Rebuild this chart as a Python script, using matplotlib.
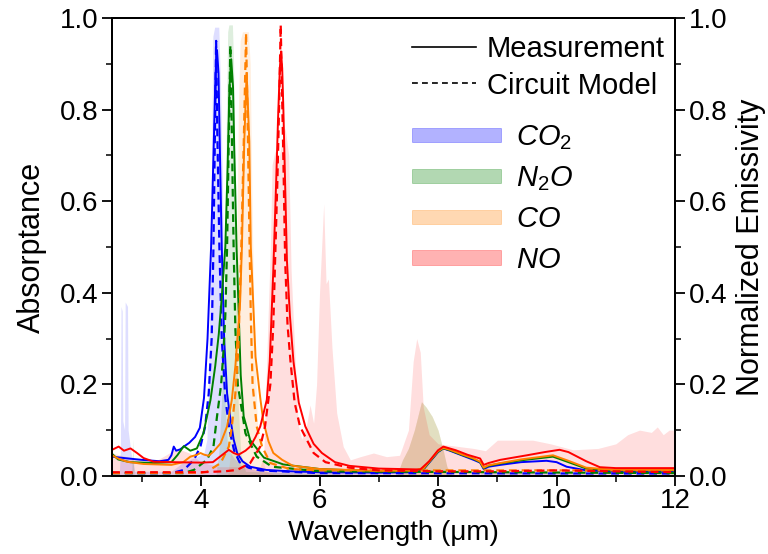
import matplotlib
matplotlib.use("Agg")
import matplotlib.pyplot as plt
from matplotlib.patches import Patch
from matplotlib.lines import Line2D
from matplotlib.ticker import MultipleLocator, FormatStrFormatter

plt.rcParams['font.family'] = ['Liberation Sans', 'DejaVu Sans']
plt.rcParams['mathtext.fontset'] = 'custom'
plt.rcParams['mathtext.it'] = 'Liberation Sans:italic'
plt.rcParams['mathtext.rm'] = 'Liberation Sans'

# ---------------- gas spectra (normalized emissivity, right axis) ----------------
co2_gas_x = [2.5, 2.62, 2.64, 2.65, 2.67, 2.68, 2.71, 2.72, 2.76, 2.77, 2.82, 2.88, 3.5, 3.7, 3.9, 4.05,
             4.1, 4.13, 4.16, 4.18, 4.2, 4.23, 4.3, 4.33, 4.36, 4.38, 4.41, 4.45, 4.55, 4.7, 5.0, 8.7, 8.8,
             8.9, 12.0]
co2_gas_y = [0.0, 0.0, 0.06, 0.37, 0.36, 0.12, 0.10, 0.38, 0.37, 0.10, 0.05, 0.01, 0.01, 0.03, 0.04, 0.05,
             0.08, 0.25, 0.45, 0.70, 0.96, 0.98, 0.98, 0.85, 0.65, 0.40, 0.15, 0.06, 0.04, 0.02, 0.01, 0.0, 0.03,
             0.01, 0.0]

n2o_gas_x = [2.5, 2.83, 2.85, 2.87, 4.25, 4.3, 4.36, 4.4, 4.43, 4.45, 4.47, 4.53, 4.55, 4.58, 4.6, 4.63,
             4.67, 4.75, 7.3, 7.4, 7.5, 7.6, 7.72, 7.8, 7.9, 8.0, 8.08, 8.15, 8.25, 12.0]
n2o_gas_y = [0.0, 0.0, 0.08, 0.0, 0.0, 0.05, 0.20, 0.45, 0.80, 0.97, 0.985, 0.985, 0.90, 0.55, 0.30, 0.15,
             0.05, 0.01, 0.0, 0.035, 0.06, 0.10, 0.162, 0.15, 0.13, 0.10, 0.06, 0.02, 0.0, 0.0]

co_gas_x = [2.5, 4.45, 4.5, 4.55, 4.6, 4.63, 4.66, 4.7, 4.8, 4.83, 4.86, 4.9, 4.95, 5.0, 5.1, 5.3, 7.3,
            7.4, 7.5, 7.6, 7.72, 7.8, 7.9, 8.0, 8.08, 8.15, 8.25, 12.0]
co_gas_y = [0.0, 0.0, 0.05, 0.15, 0.45, 0.80, 0.95, 0.97, 0.97, 0.90, 0.60, 0.30, 0.12, 0.05, 0.01, 0.0,
            0.0, 0.035, 0.06, 0.10, 0.162, 0.15, 0.13, 0.10, 0.06, 0.02, 0.0, 0.0]

no_gas_x = [2.5, 2.8, 3.2, 3.6, 3.8, 4.0, 4.3, 4.6, 5.0, 5.06, 5.12, 5.17, 5.2, 5.25, 5.3, 5.35, 5.42,
            5.48, 5.52, 5.59, 5.64, 5.7, 5.78, 5.84, 5.9, 5.95, 6.0, 6.07, 6.11, 6.15, 6.21, 6.29, 6.4,
            6.52, 6.69, 6.91, 7.13, 7.35, 7.5, 7.58, 7.64, 7.7, 7.75, 7.85, 8.0, 8.3, 8.6, 8.8, 9.0, 9.6,
            9.9, 10.28, 10.7, 11.0, 11.2, 11.4, 11.6, 11.7, 11.8, 11.9, 12.0]
no_gas_y = [0.05, 0.04, 0.03, 0.06, 0.05, 0.03, 0.02, 0.02, 0.02, 0.05, 0.30, 0.50, 0.68, 0.71, 0.68,
            0.72, 0.76, 0.70, 0.45, 0.25, 0.11, 0.08, 0.11, 0.155, 0.115, 0.20, 0.40, 0.595, 0.42, 0.43,
            0.28, 0.137, 0.064, 0.035, 0.042, 0.05, 0.042, 0.045, 0.10, 0.25, 0.30, 0.27, 0.15, 0.09, 0.07,
            0.065, 0.06, 0.055, 0.078, 0.078, 0.07, 0.057, 0.06, 0.07, 0.09, 0.10, 0.095, 0.107, 0.09, 0.10,
            0.10]

# ---------------- measured absorptance (solid) ----------------
co2_meas_x = [2.5, 2.7, 3.0, 3.3, 3.45, 3.5, 3.54, 3.58, 3.65, 3.71, 3.8, 3.9, 3.98, 4.05, 4.11, 4.17,
              4.21, 4.245, 4.27, 4.295, 4.32, 4.35, 4.39, 4.44, 4.49, 4.55, 4.61, 4.7, 4.83, 5.1, 5.5,
              6.0, 7.0, 7.6, 7.76, 7.89, 8.0, 8.09, 8.2, 8.4, 8.6, 8.71, 8.77, 8.85, 9.05, 9.4, 9.83,
              10.0, 10.17, 10.5, 11.0, 12.0]
co2_meas_y = [0.042, 0.039, 0.035, 0.032, 0.035, 0.045, 0.064, 0.055, 0.058, 0.064, 0.072, 0.085, 0.105,
              0.17, 0.30, 0.50, 0.70, 0.88, 0.93, 0.88, 0.70, 0.50, 0.30, 0.18, 0.13, 0.08, 0.05, 0.032,
              0.02, 0.013, 0.01, 0.008, 0.007, 0.008, 0.015, 0.035, 0.052, 0.06, 0.055, 0.045, 0.035,
              0.029, 0.015, 0.02, 0.024, 0.03, 0.033, 0.03, 0.02, 0.012, 0.009, 0.009]

n2o_meas_x = [2.5, 2.6, 2.8, 3.2, 3.5, 3.6, 3.71, 3.82, 3.93, 4.04, 4.16, 4.24, 4.30, 4.35, 4.41, 4.45,
              4.48, 4.51, 4.54, 4.56, 4.60, 4.63, 4.67, 4.72, 4.83, 5.06, 5.39, 6.0, 7.0, 7.6, 7.76,
              7.89, 8.0, 8.09, 8.2, 8.4, 8.6, 8.71, 8.77, 8.85, 9.05, 9.4, 9.94, 10.2, 10.5, 11.0, 12.0]
n2o_meas_y = [0.048, 0.036, 0.03, 0.028, 0.03, 0.045, 0.065, 0.055, 0.06, 0.093, 0.166, 0.24, 0.31, 0.39,
              0.50, 0.68, 0.85, 0.91, 0.85, 0.72, 0.50, 0.38, 0.22, 0.13, 0.078, 0.04, 0.025, 0.015, 0.01,
              0.011, 0.016, 0.036, 0.053, 0.06, 0.056, 0.046, 0.037, 0.03, 0.017, 0.022, 0.027, 0.034,
              0.042, 0.03, 0.016, 0.012, 0.012]

co_meas_x = [2.5, 2.6, 2.75, 3.03, 3.5, 3.7, 3.82, 3.93, 3.99, 4.06, 4.13, 4.21, 4.33, 4.44, 4.52, 4.58,
             4.62, 4.66, 4.69, 4.73, 4.77, 4.815, 4.84, 4.88, 4.92, 5.0, 5.05, 5.14, 5.22, 5.37, 5.55, 6.0,
             7.0, 7.6, 7.76, 7.89, 8.0, 8.09, 8.2, 8.4, 8.6, 8.71, 8.77, 8.85, 9.05, 9.4, 9.94, 10.2, 10.5,
             11.0, 12.0]
co_meas_y = [0.045, 0.038, 0.031, 0.026, 0.024, 0.03, 0.042, 0.046, 0.05, 0.046, 0.044, 0.053, 0.071,
             0.108, 0.166, 0.24, 0.31, 0.38, 0.50, 0.73, 0.88, 0.73, 0.50, 0.38, 0.26, 0.17, 0.12, 0.075,
             0.05, 0.035, 0.022, 0.015, 0.011, 0.012, 0.017, 0.037, 0.054, 0.061, 0.057, 0.047, 0.038,
             0.031, 0.018, 0.023, 0.028, 0.036, 0.045, 0.033, 0.018, 0.013, 0.013]

no_meas_x = [2.5, 2.61, 2.70, 2.81, 2.92, 3.03, 3.2, 3.5, 4.0, 4.2, 4.35, 4.47, 4.55, 4.63, 4.75, 4.83,
             4.92, 5.0, 5.11, 5.16, 5.22, 5.27, 5.30, 5.33, 5.35, 5.37, 5.39, 5.41, 5.45, 5.5, 5.56, 5.65,
             5.76, 5.9, 6.04, 6.26, 6.5, 7.0, 7.7, 7.85, 8.0, 8.09, 8.3, 8.5, 8.71, 8.77, 8.85, 9.05, 9.5,
             9.8, 10.05, 10.2, 10.5, 10.73, 11.0, 12.0]
no_meas_y = [0.057, 0.064, 0.055, 0.06, 0.05, 0.039, 0.031, 0.03, 0.029, 0.03, 0.045, 0.057, 0.05, 0.046,
             0.055, 0.064, 0.085, 0.108, 0.166, 0.25, 0.45, 0.65, 0.78, 0.89, 0.927, 0.89, 0.80, 0.69,
             0.47, 0.35, 0.25, 0.16, 0.108, 0.07, 0.05, 0.03, 0.022, 0.016, 0.014, 0.032, 0.056, 0.064,
             0.056, 0.046, 0.038, 0.024, 0.028, 0.035, 0.045, 0.052, 0.057, 0.052, 0.032, 0.019, 0.017,
             0.017]

# ---------------- circuit model absorptance (dashed) ----------------
co2_model_x = [2.5, 3.5, 3.71, 3.88, 3.99, 4.07, 4.13, 4.18, 4.21, 4.235, 4.255, 4.275, 4.31, 4.35, 4.41,
               4.48, 4.56, 4.65, 4.8, 5.0, 6.0, 12.0]
co2_model_y = [0.006, 0.006, 0.013, 0.035, 0.064, 0.108, 0.18, 0.30, 0.50, 0.75, 0.95, 0.75, 0.50, 0.30,
               0.17, 0.10, 0.055, 0.03, 0.018, 0.012, 0.006, 0.005]

n2o_model_x = [2.5, 3.7, 3.88, 4.10, 4.21, 4.27, 4.34, 4.38, 4.41, 4.44, 4.47, 4.495, 4.52, 4.55, 4.58,
               4.62, 4.75, 4.94, 5.2, 6.0, 12.0]
n2o_model_y = [0.006, 0.006, 0.013, 0.035, 0.064, 0.13, 0.20, 0.275, 0.35, 0.50, 0.75, 0.94, 0.75, 0.50,
               0.32, 0.20, 0.093, 0.042, 0.02, 0.01, 0.006]

co_model_x = [2.5, 4.0, 4.1, 4.33, 4.47, 4.52, 4.58, 4.63, 4.68, 4.725, 4.76, 4.79, 4.82, 4.84, 4.87,
              4.94, 5.03, 5.17, 5.5, 6.0, 12.0]
co_model_y = [0.006, 0.007, 0.009, 0.028, 0.064, 0.108, 0.18, 0.275, 0.50, 0.75, 0.967, 0.75, 0.50,
              0.35, 0.20, 0.108, 0.064, 0.028, 0.015, 0.012, 0.012]

no_model_x = [2.5, 4.0, 4.4, 4.61, 4.83, 5.0, 5.08, 5.17, 5.22, 5.25, 5.29, 5.32, 5.345, 5.37, 5.39,
              5.42, 5.46, 5.51, 5.58, 5.67, 5.9, 6.1, 6.5, 7.0, 8.0, 9.0, 10.0, 11.0, 12.0]
no_model_y = [0.008, 0.008, 0.01, 0.013, 0.028, 0.064, 0.108, 0.20, 0.33, 0.47, 0.65, 0.82, 0.985, 0.82,
              0.69, 0.47, 0.33, 0.25, 0.16, 0.108, 0.05, 0.03, 0.018, 0.012, 0.01, 0.01, 0.012, 0.01,
              0.008]

gas_labels = [r'$CO_{\mathrm{2}}$', r'$N_{\mathrm{2}}O$', r'$CO$', r'$NO$']
colors = ['#0000ff', '#008000', '#ff8000', '#ff0000']

# ---------------- figure ----------------
fig = plt.figure(figsize=(7.68, 5.54), dpi=100)
ax = fig.add_axes([0.146, 0.141, 0.733, 0.8265])
ax2 = ax.twinx()

gas_x = [co2_gas_x, n2o_gas_x, co_gas_x, no_gas_x]
gas_y = [co2_gas_y, n2o_gas_y, co_gas_y, no_gas_y]
for gx, gy, c in zip(gas_x, gas_y, colors):
    ax2.fill_between(gx, 0, gy, color=c, alpha=0.13, linewidth=0)

dash = (0, (3.5, 2.2))
meas = [(co2_meas_x, co2_meas_y), (n2o_meas_x, n2o_meas_y), (co_meas_x, co_meas_y), (no_meas_x, no_meas_y)]
model = [(co2_model_x, co2_model_y), (n2o_model_x, n2o_model_y), (co_model_x, co_model_y),
         (no_model_x, no_model_y)]
for (mx, my), (dx, dy), c in zip(meas, model, colors):
    ax.plot(dx, dy, color=c, lw=1.6, linestyle=dash)
    ax.plot(mx, my, color=c, lw=1.4)

ax.set_zorder(ax2.get_zorder() + 1)
ax.patch.set_visible(False)

for a in (ax, ax2):
    a.set_xlim(2.5, 12)
    a.set_ylim(0, 1.0)
    a.yaxis.set_major_locator(MultipleLocator(0.2))
    a.yaxis.set_minor_locator(MultipleLocator(0.1))
    a.yaxis.set_major_formatter(FormatStrFormatter('%.1f'))
    for s in a.spines.values():
        s.set_linewidth(1.4)
    a.tick_params(which='major', direction='out', length=7, width=1.3, labelsize=20, pad=3)
    a.tick_params(which='minor', direction='out', length=4, width=1.1)

ax.xaxis.set_major_locator(MultipleLocator(2))
ax.xaxis.set_minor_locator(MultipleLocator(1))
ax.tick_params(axis='x', which='both', top=False)
ax.tick_params(axis='x', which='major', pad=2)

ax.set_xlabel('Wavelength (\u03bcm)', fontsize=20, labelpad=4)
ax.set_ylabel('Absorptance', fontsize=22, labelpad=9)
ax2.set_ylabel('Normalized Emissivity', fontsize=22, labelpad=6)

line_handles = [Line2D([], [], color='black', lw=1.2),
                Line2D([], [], color='black', lw=1.2, linestyle=(0, (3.5, 2.5)))]
leg1 = ax.legend(line_handles, ['Measurement', 'Circuit Model'], loc='upper left',
                 bbox_to_anchor=(0.533, 0.962), frameon=False, fontsize=21, handlelength=2.2,
                 handletextpad=0.36, labelspacing=0.28, borderpad=0, borderaxespad=0)
ax.add_artist(leg1)

patch_handles = [Patch(facecolor=c, alpha=0.3, edgecolor=c, linewidth=0.6) for c in colors]
ax.legend(patch_handles, gas_labels, loc='upper left', bbox_to_anchor=(0.533, 0.77), frameon=False,
          fontsize=21, handlelength=3.05, handleheight=0.4, handletextpad=0.5, labelspacing=0.42,
          borderpad=0, borderaxespad=0)

fig.savefig('out.png', dpi=100)
